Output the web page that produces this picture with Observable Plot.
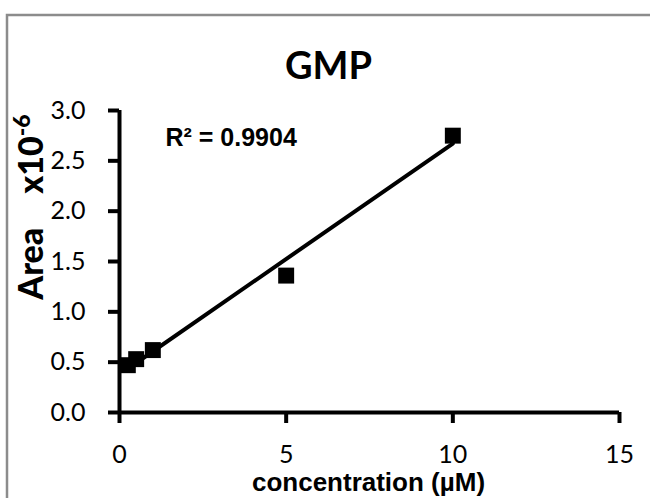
<!DOCTYPE html>
<html>
<head>
<meta charset="utf-8">
<script src="https://cdn.jsdelivr.net/npm/d3@7"></script>
<script src="https://cdn.jsdelivr.net/npm/@observablehq/plot@0.6"></script>
<style>
  html, body { margin: 0; padding: 0; background: white; }
  #chart { width: 650px; height: 498px; overflow: hidden; }
</style>
</head>
<body>
<div id="chart"></div>
<script>
// Data
const concentrations = [0.25, 0.5, 1, 5, 10];
const areas = [0.47, 0.53, 0.62, 1.36, 2.75];
const xTickValues = [0, 5, 10, 15];
const yTickValues = [0, 0.5, 1.0, 1.5, 2.0, 2.5, 3.0];
const titleText = "GMP";
const r2Text = "R² = 0.9904";
const xLabelText = "concentration (µM)";
const yLabelText = "Area";
const yUnitText = "x10";
const yExpText = "-6";

const data = concentrations.map((c, i) => ({ c, a: areas[i] }));

const chart = Plot.plot({
  width: 650,
  height: 498,
  marginLeft: 119,
  marginRight: 31,
  marginTop: 110,
  marginBottom: 86,
  x: { domain: [0, 15] },
  y: { domain: [0, 3] },
  style: { fontFamily: "Lato", background: "white", color: "black" },
  marks: [
    Plot.axisY({ ticks: yTickValues, tickFormat: d => d.toFixed(1), tickSize: 11, tickPadding: 23, fontSize: 25, strokeWidth: 4, strokeOpacity: 1, label: null }),
    Plot.axisX({ ticks: xTickValues, tickSize: 11, tickPadding: 22, fontSize: 25, strokeWidth: 4, strokeOpacity: 1, label: null }),
    Plot.ruleX([0], { strokeWidth: 4 }),
    Plot.ruleY([0], { strokeWidth: 4 }),
    Plot.linearRegressionY(data, { x: "c", y: "a", ci: 0, stroke: "black", strokeWidth: 4 }),
    Plot.dot(data, { x: "c", y: "a", symbol: "square", r: 9, fill: "black", stroke: null }),
    Plot.text([titleText], { frameAnchor: "top-left", dx: 209, dy: -44, textAnchor: "middle", lineAnchor: "middle", fontSize: 38, fontWeight: "bold", fontFamily: "Lato" }),
    Plot.text([r2Text], { frameAnchor: "top-left", dx: 46, dy: 27, textAnchor: "start", lineAnchor: "middle", fontSize: 25, fontWeight: "bold", fontFamily: "Liberation Sans" }),
    Plot.text([xLabelText], { frameAnchor: "bottom-left", dx: 249, dy: 70, textAnchor: "middle", lineAnchor: "middle", fontSize: 26, fontWeight: "bold", fontFamily: "Liberation Sans" })
  ]
});

document.getElementById("chart").appendChild(chart);

const svg = d3.select(chart);
// chart border (Excel chart area outline)
svg.append("rect")
  .attr("x", 7).attr("y", 15)
  .attr("width", 700).attr("height", 600)
  .attr("fill", "none").attr("stroke", "#8c8c8c").attr("stroke-width", 2.5);

// rotated y-axis label with superscript exponent
const yl = svg.append("text")
  .attr("transform", "translate(43,207) rotate(-90)")
  .attr("text-anchor", "middle")
  .attr("font-family", "Lato")
  .attr("font-weight", "900")
  .attr("font-size", 34)
  .attr("fill", "black");
yl.append("tspan").text(yLabelText);
yl.append("tspan").attr("dx", 34).text(yUnitText);
yl.append("tspan").attr("dy", -13).attr("font-size", 23).text(yExpText);
</script>
</body>
</html>
